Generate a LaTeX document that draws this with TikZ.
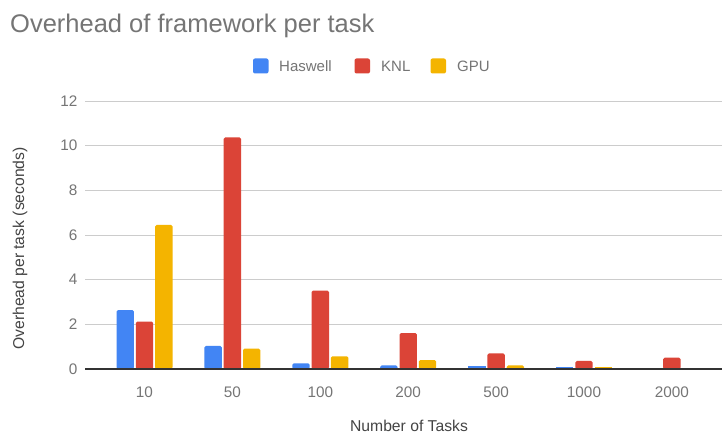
\documentclass[tikz,border=0pt]{standalone}
\usepackage{fontspec}
\setmainfont{Liberation Sans}
\definecolor{hasw}{HTML}{4285F4}
\definecolor{knl}{HTML}{DB4437}
\definecolor{gpu}{HTML}{F4B400}
\definecolor{txtgray}{HTML}{757575}
\definecolor{labgray}{HTML}{444444}
\definecolor{gridgray}{HTML}{CCCCCC}
\definecolor{axisdark}{HTML}{333333}
% one bar: colour, left, right, value (seconds); short bars drawn square
\newcommand{\chartbar}[4]{%
  \pgfmathsetmacro{\bh}{#4*22.33}%
  \ifdim\bh pt>0pt
    \ifdim\bh pt>3pt
      \fill[#1,rounded corners=1.5pt] (#2,369) rectangle (#3,369-\bh);
    \else
      \fill[#1] (#2,369) rectangle (#3,369-\bh-0.6);
    \fi
  \fi}
\begin{document}
\begin{tikzpicture}[x=1pt,y=-1pt,
  ticklabel/.style={text=txtgray,font=\fontsize{15.3}{15.3}\selectfont,inner sep=0pt},
  axislabel/.style={text=labgray,font=\fontsize{15.7}{15.7}\selectfont,inner sep=0pt},
  legtext/.style={text=txtgray,font=\fontsize{15}{15}\selectfont,inner sep=0pt,anchor=west},
  legkey/.style={rounded corners=2pt}]
\useasboundingbox (0,0) rectangle (724,435);
\fill[white] (0,0) rectangle (724,435);

% title
\node[anchor=base west,inner sep=0pt,text=txtgray,font=\fontsize{25.5}{25.5}\selectfont] (title) at (10,33) {Overhead of framework per task};

% legend
\fill[hasw,legkey] (253,58.5) rectangle (268.5,73.5);
\node[legtext] (lh) at (279,66) {Haswell};
\fill[knl,legkey] (354.5,58.5) rectangle (370,73.5);
\node[legtext] (lk) at (381,66) {KNL};
\fill[gpu,legkey] (430.5,58.5) rectangle (446,73.5);
\node[legtext] (lg) at (457,66) {GPU};

% grid and y tick labels
\foreach \v in {2,4,...,12}{
  \draw[gridgray,line width=1pt] (85,369-\v*22.33) -- (722,369-\v*22.33);
}
\foreach \v in {0,2,...,12}{
  \node[ticklabel,anchor=east] (yt\v) at (77.5,369-\v*22.33) {\v};
}

% bars: group index / Haswell / KNL / GPU / label
\foreach \i/\a/\b/\c/\lab in {0/2.64/2.12/6.45/10, 1/1.03/10.37/0.91/50, 2/0.25/3.51/0.57/100,
   3/0.16/1.61/0.40/200, 4/0.12/0.70/0.16/500, 5/0.07/0.36/0.07/1000, 6/0/0.51/0/2000}{
  \pgfmathsetmacro{\cx}{144.5+87.9*\i}
  \chartbar{hasw}{\cx-28}{\cx-10.6}{\a}
  \chartbar{knl}{\cx-8.7}{\cx+8.7}{\b}
  \chartbar{gpu}{\cx+10.6}{\cx+28}{\c}
  \node[ticklabel] (xt\i) at (\cx,392) {\lab};
}

% baseline
\draw[axisdark,line width=1.4pt] (85,369) -- (722,369);

% axis titles
\node[axislabel,rotate=90] (ytitle) at (20,248.5) {Overhead per task (seconds)};
\node[axislabel,anchor=base] (xtitle) at (409,432) {Number of Tasks};
\end{tikzpicture}
\end{document}
